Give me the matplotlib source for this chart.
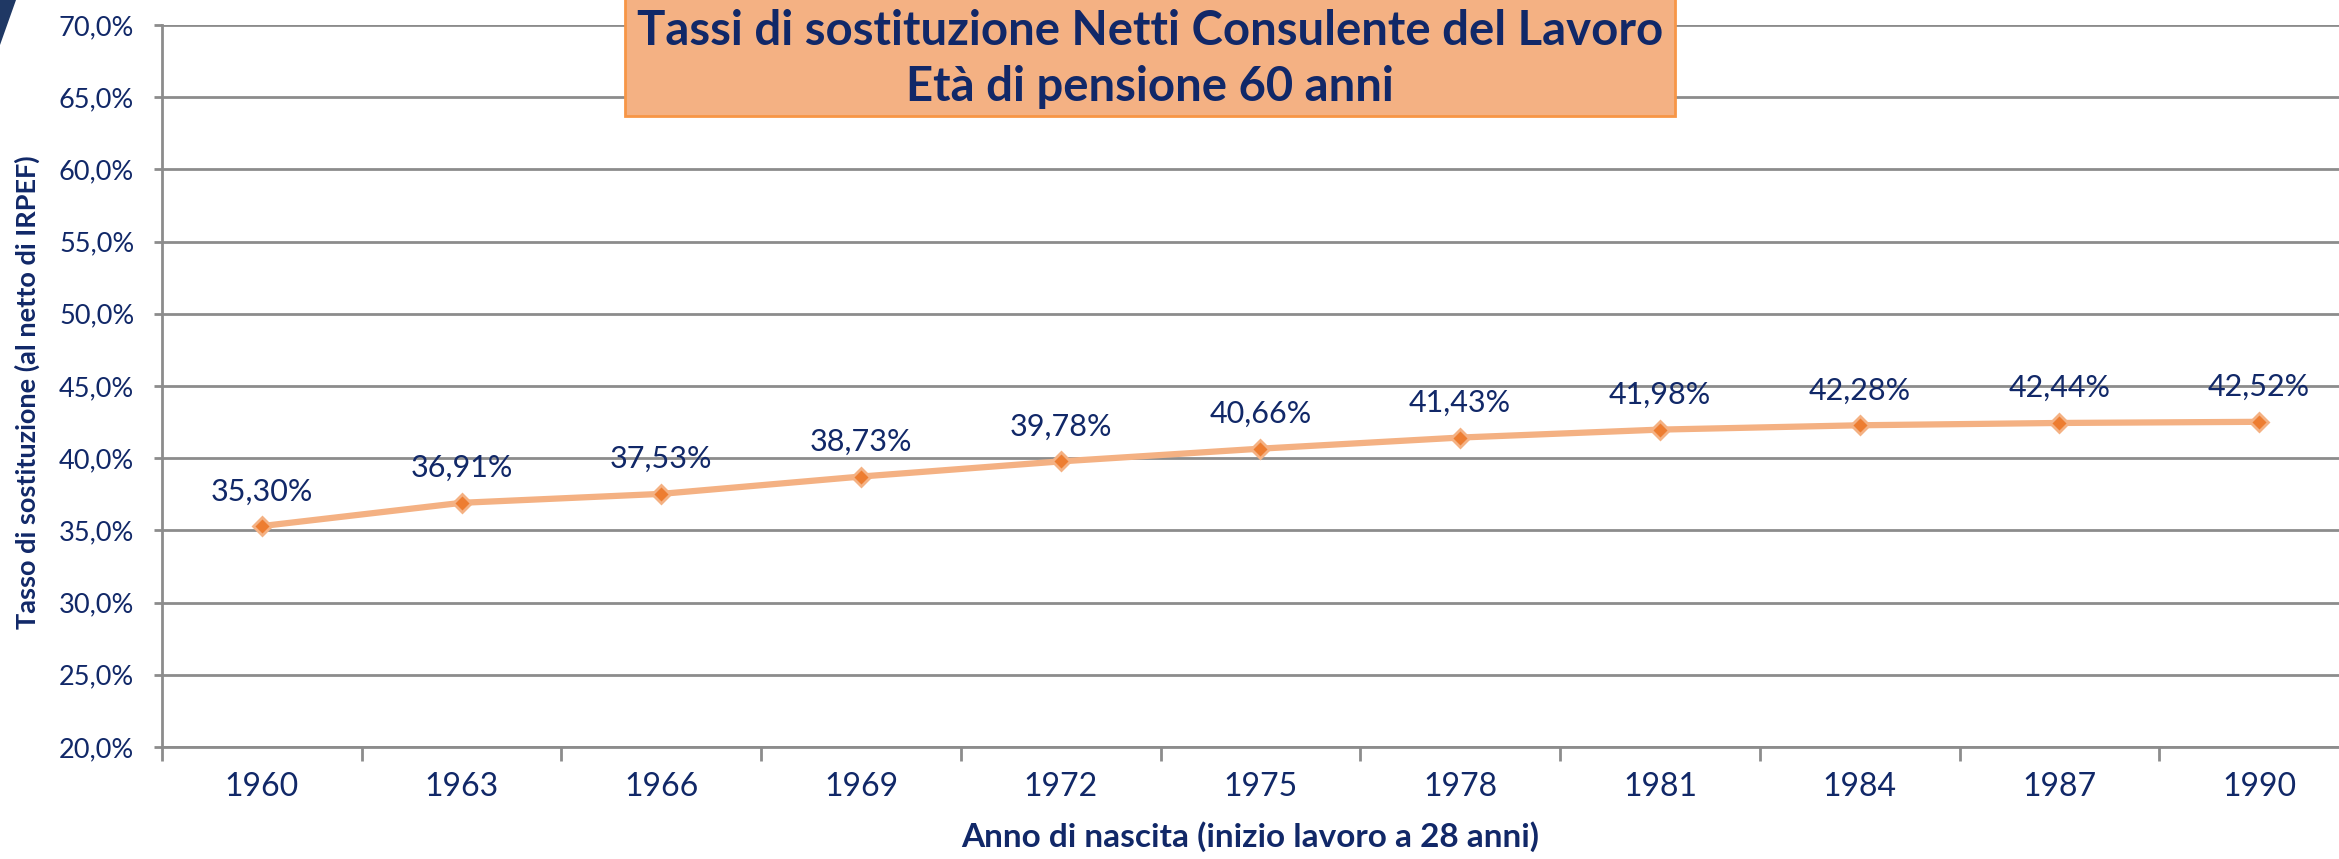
"""
plot.py

Tassi di sostituzione netti (Consulente del Lavoro), eta di pensione 60 anni.
Line chart with data labels, saved to out.png.
"""

#####################################
# Import Modules
#####################################

import matplotlib
matplotlib.use("Agg")
import matplotlib.pyplot as plt
from matplotlib.patches import Rectangle, Polygon
from matplotlib.ticker import FixedLocator, FuncFormatter

#####################################
# Data
#####################################

birth_years = ["1960", "1963", "1966", "1969", "1972", "1975",
               "1978", "1981", "1984", "1987", "1990"]
replacement_rates = [35.30, 36.91, 37.53, 38.73, 39.78, 40.66,
                     41.43, 41.98, 42.28, 42.44, 42.52]
y_ticks = [20, 25, 30, 35, 40, 45, 50, 55, 60, 65, 70]

title_lines = ["Tassi di sostituzione Netti Consulente del Lavoro",
               "Età di pensione 60 anni"]
x_label = "Anno di nascita (inizio lavoro a 28 anni)"
y_label = "Tasso di sostituzione (al netto di IRPEF)"

#####################################
# Colours and fonts
#####################################

NAVY = "#112868"
GRID = "#8c8c8c"
LINE = "#f4b183"
MARKER = "#ed7d31"
BOX_FILL = "#f4b183"
BOX_EDGE = "#f79646"

plt.rcParams["font.family"] = ["Lato", "DejaVu Sans"]

W, H = 2339, 859

#####################################
# Figure and axes
#####################################

fig = plt.figure(figsize=(W / 100, H / 100), dpi=100)
ax = fig.add_axes([162 / W, 1 - 747 / H, 1 - 162 / W, (747 - 25) / H])

x = list(range(len(birth_years)))
ax.plot(x, replacement_rates, color=LINE, linewidth=4.5, zorder=3,
        marker="D", markersize=9, markerfacecolor=MARKER,
        markeredgecolor=LINE, markeredgewidth=2)

# data labels above each point
for xi, v in zip(x, replacement_rates):
    ax.annotate(f"{v:.2f}%".replace(".", ","), (xi, v),
                xytext=(0, 25), textcoords="offset points",
                ha="center", va="center", fontsize=22, color=NAVY, zorder=4)

ax.set_ylim(20, 70)
ax.set_xlim(-0.5, 10.4)

ax.yaxis.set_major_locator(FixedLocator(y_ticks))
ax.yaxis.set_major_formatter(
    FuncFormatter(lambda v, pos: f"{v:.1f}%".replace(".", ",")))
ax.set_xticks(x)
ax.set_xticklabels(birth_years)
ax.xaxis.set_minor_locator(FixedLocator([i - 0.5 for i in range(len(x) + 1)]))

ax.tick_params(axis="y", length=6, width=2, color=GRID, labelsize=19.5,
               labelcolor=NAVY, pad=14)
ax.tick_params(axis="x", which="major", length=0, labelsize=23,
               labelcolor=NAVY, pad=18)
ax.tick_params(axis="x", which="minor", length=10, width=2, color=GRID)

ax.grid(axis="y", color=GRID, linewidth=2)
ax.set_axisbelow(True)
for side in ["top", "right"]:
    ax.spines[side].set_visible(False)
for side in ["left", "bottom"]:
    ax.spines[side].set_color(GRID)
    ax.spines[side].set_linewidth(2)

ax.set_xlabel(x_label, fontsize=24, fontweight="bold", color=NAVY, labelpad=14)
fig.text(27 / W, 1 - 392 / H, y_label, rotation=90, ha="center", va="center",
         fontsize=19.5, fontweight="bold", color=NAVY)

#####################################
# Title box and slide decoration
#####################################

box = Rectangle((625 / W, 1 - 116 / H), (1675 - 625) / W, 116 / H + 0.01,
                transform=fig.transFigure, facecolor=BOX_FILL,
                edgecolor=BOX_EDGE, linewidth=2, zorder=5)
fig.patches.append(box)
fig.text(1150 / W, 1 - 31 / H, title_lines[0], ha="center", va="center",
         fontsize=34, fontweight="bold", color=NAVY, zorder=6)
fig.text(1150 / W, 1 - 87 / H, title_lines[1], ha="center", va="center",
         fontsize=34, fontweight="bold", color=NAVY, zorder=6)

corner = Polygon([(0, 1), (16 / W, 1), (0, 1 - 45 / H)], closed=True,
                 transform=fig.transFigure, facecolor="#1f3864",
                 edgecolor="none", zorder=5)
fig.patches.append(corner)

fig.savefig("out.png", dpi=100)
